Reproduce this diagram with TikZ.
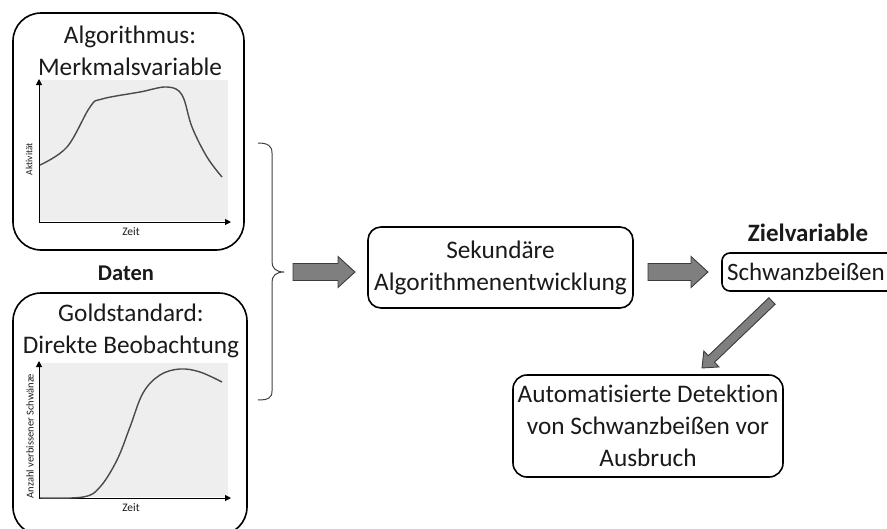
\documentclass[tikz,border=0pt]{standalone}
\usepackage{fontspec}
\setmainfont{Carlito}[Ligatures=NoCommon]
\usetikzlibrary{calc,arrows.meta}
\definecolor{txt}{HTML}{1A1A1A}
\definecolor{chartbg}{HTML}{EEEEEE}
\definecolor{curvec}{HTML}{4A4A4A}
\definecolor{arrfill}{HTML}{7F7F7F}
\definecolor{arrline}{HTML}{3C3C3C}
\tikzset{
  roundbox/.style={draw=black, line width=1.6pt, inner sep=0pt},
  bigtxt/.style={font=\fontsize{25.3}{32}\selectfont, text=txt, align=center, inner sep=0pt},
  boldtxt/.style={font=\fontsize{22.5}{28}\selectfont\bfseries, text=txt, inner sep=0pt},
  smalltxt/.style={font=\fontsize{10.5}{12}\selectfont, text=txt, inner sep=0pt},
  axisline/.style={draw=black, line width=1pt, -{Triangle[length=6pt,width=6pt]}},
  curveline/.style={draw=curvec, line width=1.4pt},
  blk/.style={fill=arrfill, draw=arrline, line width=0.9pt, line join=miter}
}
% #1 start, #2 end, #3 shaft half width, #4 head half width, #5 head length
\newcommand\blockarrow[5]{%
  \path let \p1=($(#2)-(#1)$), \n1={atan2(\y1,\x1)}, \n2={veclen(\x1,\y1)} in
    \pgfextra{\xdef\baang{\n1}\xdef\balen{\n2}};
  \draw[blk, shift={(#1)}, rotate=\baang]
    (0,-#3) -- (\balen-#5,-#3) -- (\balen-#5,-#4) -- (\balen,0)
    -- (\balen-#5,#4) -- (\balen-#5,#3) -- (0,#3) -- cycle;
}
\begin{document}
\begin{tikzpicture}[x=1pt,y=-1pt]
\useasboundingbox (0,0) rectangle (887,528);

% ---------- top left box ----------
\node[roundbox, rounded corners=28pt, minimum width=231pt, minimum height=237pt] (algbox) at (128.5,131.5) {};
\node[bigtxt] (algtitle) at (130,51) {Algorithmus:\\Merkmalsvariable};
\fill[chartbg] (40,80) rectangle (228,221);
\coordinate (o1) at (39,222);
\coordinate (y1) at (39,79);
\coordinate (x1) at (231,222);
\draw[axisline] (o1) -- (y1);
\draw[axisline] (o1) -- (x1);
\draw[curveline] plot[smooth, tension=0.6] coordinates {(40,165) (67,147) (90,107) (102,99) (140,92) (167,87) (182,95) (192,127) (207,157) (222,177)};
\node[smalltxt, font=\fontsize{9.5}{11}\selectfont, rotate=90] (akt) at (29,159) {Aktivität};
\node[smalltxt, font=\fontsize{11.5}{13}\selectfont] (zeit1) at (131,232) {Zeit};

% ---------- Daten ----------
\node[boldtxt] (daten) at (126,273) {Daten};

% ---------- bottom left box ----------
\node[roundbox, rounded corners=28pt, minimum width=234pt, minimum height=242pt] (goldbox) at (130,414) {};
\node[bigtxt] (goldtitle) at (131,331) {Goldstandard:\\Direkte Beobachtung};
\fill[chartbg] (40,363) rectangle (228,497);
\coordinate (o2) at (39,498);
\coordinate (y2) at (39,361);
\coordinate (x2) at (231,498);
\draw[axisline] (o2) -- (y2);
\draw[axisline] (o2) -- (x2);
\draw[curveline] plot[smooth, tension=0.6] coordinates {(40,498) (83,497) (100,487) (117,460) (130,427) (143,393) (160,375) (180,369) (200,372) (222,382)};
\node[smalltxt, rotate=90] (anz) at (30,436) {Anzahl verbissener Schwänze};
\node[smalltxt, font=\fontsize{11.5}{13}\selectfont] (zeit2) at (131,508) {Zeit};

% ---------- brace ----------
\coordinate (brtop) at (258,143);
\coordinate (brtip) at (284,272);
\coordinate (brbot) at (258,400);
\draw[draw=black!75, line width=1pt]
  (brtop) .. controls (268,143) and (272,146) .. (272,153) -- (272,262)
  .. controls (272,268) and (276,272) .. (brtip)
  .. controls (276,272) and (272,276) .. (272,282) -- (272,391)
  .. controls (272,398) and (268,400) .. (brbot);

% ---------- middle box ----------
\node[roundbox, rounded corners=13pt, minimum width=265pt, minimum height=81pt, bigtxt] (sek) at (500.5,267.5) {Sekundäre\\Algorithmenentwicklung};

% ---------- Zielvariable ----------
\node[boldtxt, font=\fontsize{25}{30}\selectfont\bfseries] (ziel) at (808,233) {Zielvariable};
\node[roundbox, rounded corners=8pt, minimum width=175pt, minimum height=38pt] (schbox) at (809.5,272) {};
\node[bigtxt, font=\fontsize{25}{32}\selectfont] (sch) at (806,272) {Schwanzbeißen};

% ---------- bottom right box ----------
\node[roundbox, rounded corners=14pt, minimum width=270pt, minimum height=102pt, bigtxt] (auto) at (648,426) {Automatisierte Detektion\\von Schwanzbeißen vor\\Ausbruch};

% ---------- block arrows ----------
\coordinate (a1s) at (293,272);
\coordinate (a1e) at (355,272);
\coordinate (a2s) at (648,272);
\coordinate (a2e) at (708,272);
\coordinate (a3s) at (772,301);
\coordinate (a3e) at (702,368);
\blockarrow{a1s}{a1e}{8.5}{15.5}{17}
\blockarrow{a2s}{a2e}{8.5}{15.5}{17}
\blockarrow{a3s}{a3e}{4.5}{11}{13}
\end{tikzpicture}
\end{document}
